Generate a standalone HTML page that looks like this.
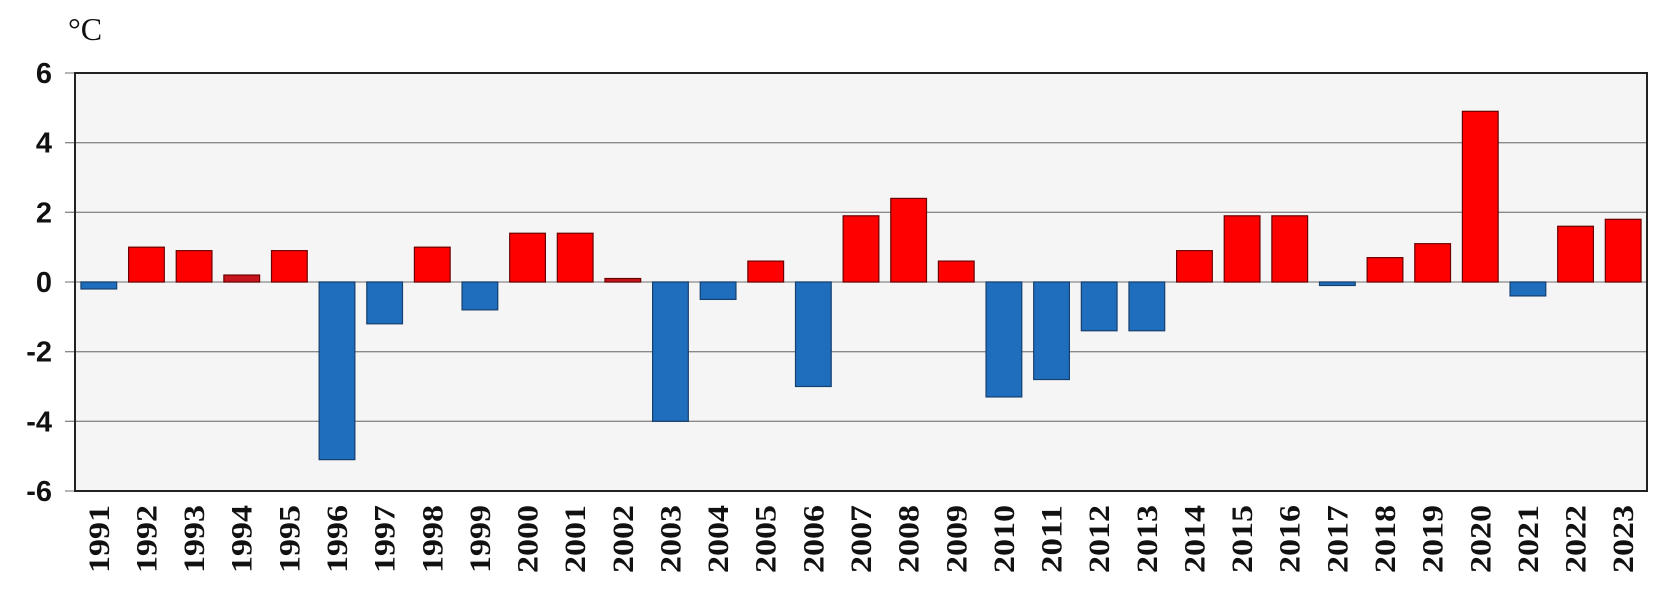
<!DOCTYPE html>
<html><head><meta charset="utf-8"><style>
html,body{margin:0;padding:0;background:#fff;width:1680px;height:606px;overflow:hidden}
svg{display:block}
</style></head><body>
<svg id="chart" width="1680" height="606">
<text x="68" y="40" font-family="Liberation Serif, serif" font-size="32" fill="#111">°C</text>
<g id="plot"></g>
</svg>
<script>
const years=[1991,1992,1993,1994,1995,1996,1997,1998,1999,2000,2001,2002,2003,2004,2005,2006,2007,2008,2009,2010,2011,2012,2013,2014,2015,2016,2017,2018,2019,2020,2021,2022,2023];
const values=[-0.2,1.0,0.9,0.2,0.9,-5.1,-1.2,1.0,-0.8,1.4,1.4,0.1,-4.0,-0.5,0.6,-3.0,1.9,2.4,0.6,-3.3,-2.8,-1.4,-1.4,0.9,1.9,1.9,-0.1,0.7,1.1,4.9,-0.4,1.6,1.8];
const yTicks=[6,4,2,0,-2,-4,-6];
const NS='http://www.w3.org/2000/svg';
const L=75,R=1647,T=73,B=491,yMin=-6,yMax=6;
const y=v=>B-(v-yMin)/(yMax-yMin)*(B-T);
const band=(R-L)/years.length;
const x=i=>L+i*band;
const g=document.getElementById('plot');
function mk(t,a){const e=document.createElementNS(NS,t);for(const k in a)e.setAttribute(k,a[k]);g.appendChild(e);return e;}
const bg=mk('rect',{x:L,y:T,width:R-L,height:B-T,fill:'#f5f5f5'});


yTicks.forEach(v=>{
  const ln=mk('line',{x1:L-10,x2:R,y1:y(v),y2:y(v),stroke:'#8a8a8a','stroke-width':1.3});
  
  
  const t=mk('text',{x:52,y:y(v)+10,'text-anchor':'end','font-family':'Liberation Sans, sans-serif','font-weight':'bold','font-size':29,fill:'#111'});
  t.textContent=v;
  
  
});
const fr=mk('rect',{x:L,y:T,width:R-L,height:B-T,fill:'none',stroke:'#222','stroke-width':2});


years.forEach((yr,i)=>{
  const v=values[i];
  const w=band*0.75;
  const bx=x(i)+(band-w)/2;
  const top=Math.min(y(v),y(0)),h=Math.abs(y(v)-y(0));
  const fill=v>=0?(v<0.3?'#c8141c':'#ff0000'):'#1f6dbd';
  const r=mk('rect',{x:bx,y:top,width:w,height:Math.max(h,1.5),fill:fill,stroke:v>=0?'#6a0000':'#16406e','stroke-width':1.2});
  
  
  const cx=x(i)+band/2;
  const t=mk('text',{x:0,y:0,transform:`translate(${cx+10},${573}) rotate(-90)`,'font-family':'Liberation Serif, serif','font-weight':'bold','font-size':30,textLength:68,lengthAdjust:'spacingAndGlyphs',fill:'#111'});
  t.textContent=yr;
  
  
});
</script>
</body></html>
